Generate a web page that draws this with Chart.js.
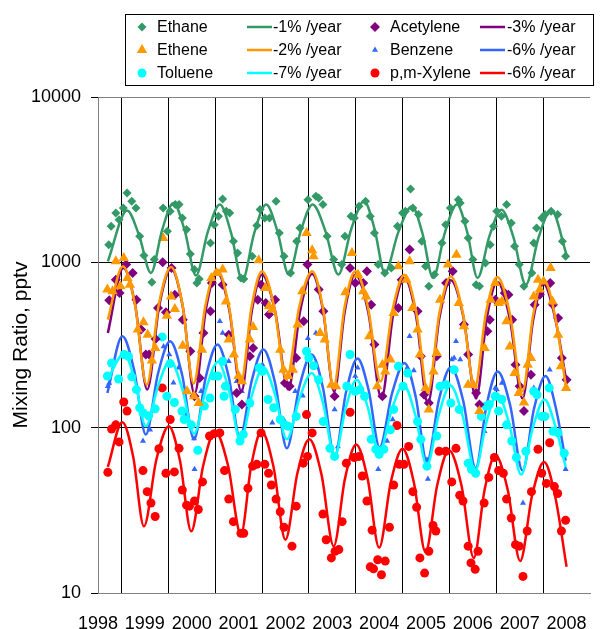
<!DOCTYPE html>
<html>
<head>
<meta charset="utf-8">
<script src="https://cdn.jsdelivr.net/npm/chart.js@4/dist/chart.umd.min.js"></script>
<style>
  body { margin: 0; background: #fff; }
  #wrap { width: 610px; height: 629px; position: relative; }
</style>
</head>
<body>
<div id="wrap"><canvas id="myChart" width="610" height="629"></canvas></div>
<script>
// measured points (decimal year, pptv)
var ethaneYears = [1998.23,1998.28,1998.38,1998.45,1998.54,1998.62,1998.72,1998.81,1998.89,1998.98,1999.15,1999.20,1999.39,1999.48,1999.54,1999.65,1999.73,1999.80,1999.89,1999.97,2000.06,2000.11,2000.16,2000.40,2000.48,2000.57,2000.66,2000.74,2000.81,2000.89,2000.98,2001.05,2001.11,2001.29,2001.39,2001.46,2001.56,2001.66,2001.80,2001.87,2001.97,2002.11,2002.24,2002.31,2002.48,2002.65,2002.71,2002.80,2002.89,2003.03,2003.20,2003.27,2003.40,2003.47,2003.57,2003.71,2003.81,2003.90,2003.98,2004.12,2004.26,2004.39,2004.50,2004.56,2004.67,2004.72,2004.84,2004.91,2004.99,2005.06,2005.18,2005.34,2005.42,2005.52,2005.69,2005.73,2005.83,2005.90,2006.00,2006.07,2006.14,2006.27,2006.37,2006.44,2006.51,2006.61,2006.72,2006.82,2006.89,2006.99,2007.09,2007.26,2007.30,2007.36,2007.47,2007.54,2007.67,2007.81,2007.91,2007.98];
var ethaneValues = [1279,1652,1990,1812,2133,2630,2339,2133,1438,1099,757,1039,2133,1542,2036,2234,2234,1855,1578,1125,904,750,794,1310,1690,1900,2416,2036,1990,1340,1140,805,794,1089,1668,2084,1855,1855,2339,1506,1089,863,1340,1614,2393,2507,2450,2234,1438,1039,969,1438,1900,1855,2183,2339,1900,1506,969,863,925,1652,1990,2036,2780,2133,1944,1340,946,717,843,1310,1690,2133,2393,2286,1771,1405,1039,733,717,991,1279,1652,2036,1900,2234,1730,1250,969,717,863,1310,1614,1855,1944,2036,1944,1340,1089];
var ethaneFitYears = [1998.21,1998.62,1998.875,1999.13,1999.37,1999.61,1999.85,2000.09,2000.345,2000.60,2000.84,2001.08,2001.335,2001.59,2001.83,2002.07,2002.325,2002.58,2002.855,2003.13,2003.405,2003.68,2003.90,2004.12,2004.41,2004.70,2004.925,2005.15,2005.405,2005.66,2005.88,2006.10,2006.355,2006.61,2006.87,2007.13,2007.40,2007.67,2008.01];
var ethaneFitValues = [1013,2060,1462,863,1574,2285,1559,832,1534,2235,1507,778,1507,2235,1539,843,1539,2235,1539,843,1591,2338,1601,863,1523,2182,1494,805,1520,2235,1520,805,1444,2083,1408,733,1408,2083,1087];

var acetyleneYears = [1998.24,1998.38,1998.46,1998.60,1998.74,1998.82,1998.92,1999.02,1999.09,1999.23,1999.28,1999.38,1999.45,1999.57,1999.64,1999.81,1999.97,2000.06,2000.17,2000.25,2000.40,2000.43,2000.66,2000.79,2000.96,2001.07,2001.24,2001.31,2001.41,2001.48,2001.58,2001.65,2001.78,2001.99,2002.09,2002.23,2002.39,2002.47,2002.71,2002.81,2003.05,2003.38,2003.49,2003.66,2003.74,2003.83,2003.90,2004.07,2004.41,2004.48,2004.65,2004.82,2004.89,2004.96,2005.06,2005.23,2005.43,2005.57,2005.81,2005.90,2006.07,2006.14,2006.31,2006.36,2006.48,2006.68,2006.76,2006.84,2006.91,2007.00,2007.09,2007.24,2007.32,2007.43,2007.65,2007.71,2007.82,2007.90,2008.00];
var acetyleneValues = [589,785,653,969,861,594,392,277,277,344,530,1000,499,925,637,450,290,155,200,374,506,750,733,365,162,138,270,303,594,733,567,483,594,186,178,264,440,969,684,506,155,925,750,750,883,554,318,155,530,785,1194,506,270,158,141,270,750,883,420,277,162,138,383,450,594,653,637,450,240,178,126,209,554,637,750,554,461,264,195];
var acetyleneFitYears = [1998.21,1998.54,1998.795,1999.05,1999.305,1999.56,1999.81,2000.06,2000.30,2000.54,2000.80,2001.06,2001.28,2001.50,2001.78,2002.06,2002.315,2002.57,2002.805,2003.04,2003.265,2003.49,2003.77,2004.05,2004.295,2004.54,2004.79,2005.04,2005.285,2005.53,2005.80,2006.07,2006.295,2006.52,2006.79,2007.06,2007.285,2007.51,2007.75,2007.99];
var acetyleneFitValues = [374,925,548,170,543,915,538,160,515,870,518,165,503,840,505,170,510,850,508,165,503,840,495,150,475,800,470,140,460,780,465,150,455,760,455,150,445,740,468,195];

var etheneYears = [1998.20,1998.31,1998.38,1998.48,1998.55,1998.63,1998.68,1998.85,1998.97,1999.06,1999.15,1999.22,1999.39,1999.47,1999.56,1999.64,1999.81,1999.90,2000.05,2000.15,2000.22,2000.42,2000.53,2000.66,2000.73,2000.79,2000.90,2001.00,2001.07,2001.24,2001.31,2001.43,2001.57,2001.65,2001.72,2001.89,2001.96,2002.06,2002.16,2002.26,2002.36,2002.45,2002.57,2002.60,2002.74,2002.84,2002.98,2003.08,2003.28,2003.42,2003.55,2003.66,2003.72,2003.79,2003.96,2004.07,2004.13,2004.24,2004.31,2004.41,2004.58,2004.65,2004.71,2004.82,2004.87,2004.99,2005.06,2005.16,2005.23,2005.30,2005.47,2005.65,2005.70,2005.81,2005.90,2006.01,2006.14,2006.25,2006.38,2006.48,2006.55,2006.62,2006.72,2006.79,2006.89,2006.98,2007.09,2007.17,2007.24,2007.30,2007.39,2007.43,2007.51,2007.66,2007.70,2007.82,2007.88,2007.99];
var etheneValues = [684,668,1014,716,1062,804,733,392,434,365,255,303,1403,476,622,522,313,166,155,141,296,804,861,904,580,341,277,205,191,341,406,1028,700,542,517,296,224,205,224,420,668,1506,1183,1087,374,341,182,178,660,1138,842,668,622,357,178,240,219,258,494,946,785,1014,530,392,277,174,129,219,283,594,969,1112,567,410,182,182,126,303,594,750,567,580,440,310,214,162,142,240,264,622,785,684,767,925,580,365,235,174];
var etheneFitYears = [1998.21,1998.53,1998.785,1999.04,1999.30,1999.56,1999.80,2000.04,2000.29,2000.54,2000.795,2001.05,2001.275,2001.50,2001.76,2002.02,2002.295,2002.57,2002.80,2003.03,2003.26,2003.49,2003.76,2004.03,2004.285,2004.54,2004.79,2005.04,2005.285,2005.53,2005.785,2006.04,2006.28,2006.52,2006.79,2007.06,2007.285,2007.51,2007.75,2007.99];
var etheneFitValues = [450,946,564,182,560,937,561,185,545,904,545,186,535,883,539,195,539,883,531,178,531,883,537,190,516,842,502,162,492,822,498,174,495,815,491,166,476,785,480,174];

var benzeneYears = [1998.21,1998.24,1998.53,1998.82,1998.96,1999.11,1999.40,1999.52,1999.61,1999.72,1999.88,2000.05,2000.06,2000.20,2000.60,2000.66,2000.79,2000.96,2001.07,2001.51,2001.72,2001.96,2002.21,2002.37,2002.48,2002.65,2003.05,2003.12,2003.49,2003.54,2003.98,2004.17,2004.29,2004.60,2004.65,2004.74,2005.02,2005.04,2005.55,2005.60,2005.64,2005.73,2006.25,2006.48,2006.51,2006.62,2007.07,2007.30,2007.64,2007.98];
var benzeneValues = [178,186,277,166,83,97,310,277,187,230,120,86,56,166,440,374,252,191,166,240,107,112,166,156,348,374,129,77,205,230,56,83,112,230,357,222,64,49,258,264,333,258,95,174,170,186,35,174,224,56];
var benzeneFitYears = [1998.20,1998.52,1998.77,1999.02,1999.28,1999.54,1999.795,2000.05,2000.30,2000.55,2000.79,2001.03,2001.28,2001.53,2001.78,2002.03,2002.295,2002.56,2002.805,2003.05,2003.295,2003.54,2003.775,2004.01,2004.275,2004.54,2004.78,2005.02,2005.275,2005.53,2005.795,2006.06,2006.295,2006.53,2006.795,2007.06,2007.305,2007.55,2007.77,2007.98];
var benzeneFitValues = [162,357,224,91,212,333,209,85,202,318,203,87,192,297,186,75,176,277,172,67,165,262,169,76,161,246,154,62,147,232,145,57,138,219,137,55,130,205,132,63];

var tolueneYears = [1998.20,1998.29,1998.44,1998.56,1998.65,1998.72,1998.82,1998.89,1998.96,1999.08,1999.22,1999.37,1999.47,1999.54,1999.63,1999.79,1999.84,1999.99,2000.13,2000.27,2000.39,2000.47,2000.56,2000.66,2000.69,2000.72,2000.93,2001.03,2001.10,2001.24,2001.44,2001.51,2001.63,2001.75,2001.89,2001.99,2002.06,2002.23,2002.45,2002.50,2002.60,2002.71,2002.81,2002.95,2003.05,2003.31,2003.38,2003.49,2003.59,2003.69,2003.83,2003.93,2004.00,2004.10,2004.24,2004.31,2004.41,2004.51,2004.61,2004.82,2004.89,2005.02,2005.23,2005.30,2005.43,2005.53,2005.60,2005.71,2005.90,2005.97,2006.06,2006.18,2006.28,2006.35,2006.48,2006.55,2006.62,2006.72,2006.83,2006.93,2007.13,2007.30,2007.37,2007.47,2007.54,2007.63,2007.71,2007.82,2007.95];
var tolueneValues = [205,246,197,277,270,203,170,132,123,118,130,354,155,244,142,126,112,104,73,135,151,205,205,252,155,178,129,83,91,141,230,219,148,132,112,104,102,117,290,264,237,195,109,75,67,178,277,166,170,155,85,74,69,74,97,129,235,178,214,109,85,58.5,89,178,182,141,224,129,61,56,53,117,135,138,155,126,148,104,83,66,72,166,158,117,117,174,95,93,70];
var tolueneFitYears = [1998.20,1998.56,1998.79,1999.02,1999.28,1999.54,1999.795,2000.05,2000.305,2000.56,2000.80,2001.04,2001.285,2001.53,2001.78,2002.03,2002.295,2002.56,2002.805,2003.05,2003.285,2003.52,2003.76,2004.00,2004.26,2004.52,2004.77,2005.02,2005.27,2005.52,2005.785,2006.05,2006.285,2006.52,2006.775,2007.03,2007.28,2007.53,2007.76,2007.98];
var tolueneFitValues = [195,280,191,102,178,254,173,92,171,250,166,83,157,232,158,85,149,214,140,67,131,195,132,70,126,182,120,59,119,180,117,55,107,160,106,52,100,148,102,58];

var xyleneYears = [1998.21,1998.29,1998.38,1998.45,1998.55,1998.62,1998.96,1999.05,1999.13,1999.22,1999.30,1999.37,1999.45,1999.54,1999.63,1999.73,1999.80,1999.89,1999.95,2000.06,2000.14,2000.23,2000.38,2000.48,2000.60,2000.70,2000.79,2000.89,2001.05,2001.11,2001.20,2001.30,2001.39,2001.48,2001.56,2001.64,2001.70,2001.80,2001.89,2001.97,2002.14,2002.23,2002.38,2002.45,2002.47,2002.57,2002.80,2002.87,2002.98,2003.06,2003.14,2003.21,2003.30,2003.38,2003.47,2003.57,2003.64,2003.74,2003.81,2003.85,2003.88,2003.97,2004.05,2004.13,2004.22,2004.31,2004.38,2004.43,2004.53,2004.63,2004.72,2004.80,2004.87,2004.97,2005.06,2005.15,2005.21,2005.28,2005.42,2005.55,2005.64,2005.72,2005.79,2005.90,2005.96,2006.05,2006.11,2006.24,2006.34,2006.46,2006.55,2006.65,2006.72,2006.82,2006.91,2006.99,2007.07,2007.16,2007.25,2007.39,2007.47,2007.57,2007.64,2007.74,2007.81,2007.89,2007.98];
var xyleneValues = [53.7,98,104,82,143,126,55,41,35,29,74.5,174,53,112,54,75,42,34,33.5,36,32,47,89,92,93,55,37,27,23,23,43,58.5,60,93,60,53,45,37,31,25,19.2,33.5,61,120,67,93,30,21,16.3,17.9,18.3,27,61,124,66,67,51,36,14.4,24,14,15.9,12.9,15.6,25,45,103,60,60,77,41,33,16.3,13.2,17.9,25.6,23.7,72,72,47,75,39,36,19.2,15.2,13.9,17.9,35,50,66,55,53,37,28.4,19.6,19.2,12.6,23.7,41,74,53,46,81,44,40,23.7,27.5];
var xyleneFitYears = [1998.21,1998.52,1998.75,1998.98,1999.245,1999.51,1999.75,1999.99,2000.245,2000.50,2000.775,2001.05,2001.27,2001.49,2001.745,2002.00,2002.255,2002.51,2002.77,2003.03,2003.27,2003.51,2003.755,2004.00,2004.25,2004.50,2004.745,2004.99,2005.24,2005.49,2005.755,2006.02,2006.25,2006.48,2006.745,2007.01,2007.265,2007.52,2007.76,2008.00];
var xyleneFitValues = [58,108,67,25.3,64,102,63,23.6,59,95,59,22.6,59,95,58,21,53,85,52,19.2,49,79,49,18.8,47,74.5,46,17.7,45,73,45,16.3,42,68,42,15.6,39,62,38,14.4];

var yTicks = [10, 100, 1000, 10000];
var FONT = '"Liberation Sans", Arial, sans-serif';

function pts(xs, ys) {
	return xs.map(function(x, i) { return { x: x, y: ys[i] }; });
}

function scatterSet(label, xs, ys, color, style, r, order) {
	return {
		label: label, data: pts(xs, ys), showLine: false,
		pointStyle: style, pointRadius: r, pointHoverRadius: r,
		pointBackgroundColor: color, pointBorderWidth: 0,
		backgroundColor: color, borderColor: color, order: order
	};
}

function fitSet(label, xs, ys, color, order) {
	return {
		label: label, data: pts(xs, ys), showLine: true,
		borderColor: color, backgroundColor: color, borderWidth: 2.5,
		pointRadius: 0, pointHoverRadius: 0, fill: false,
		cubicInterpolationMode: 'monotone', order: order
	};
}

// legend drawn as a 4 column box like the original
var gridLegend = {
	id: 'gridLegend',
	afterDraw: function(chart) {
		var ctx = chart.ctx;
		var rows = [27, 50, 73];
		var markX = [142, 0, 375, 0];
		var lineX = [0, 247, 0, 480];
		var textX = [157, 273, 390, 507];
		ctx.save();
		ctx.fillStyle = '#fff';
		ctx.fillRect(125, 14, 468, 71);
		ctx.strokeStyle = '#000';
		ctx.lineWidth = 1;
		ctx.strokeRect(125.5, 14.5, 468, 71);
		ctx.font = '16px ' + FONT;
		ctx.textBaseline = 'middle';
		chart.data.datasets.forEach(function(ds, i) {
			var row = Math.floor(i / 4), col = i % 4;
			var y = rows[row];
			if (ds.showLine) {
				ctx.strokeStyle = ds.borderColor;
				ctx.lineWidth = 2.5;
				ctx.beginPath();
				ctx.moveTo(lineX[col], y);
				ctx.lineTo(lineX[col] + 25, y);
				ctx.stroke();
			} else {
				var x = markX[col], r = ds.pointRadius;
				ctx.fillStyle = ds.pointBackgroundColor;
				ctx.beginPath();
				if (ds.pointStyle === 'circle') {
					ctx.arc(x, y, r, 0, Math.PI * 2);
				} else if (ds.pointStyle === 'rectRot') {
					ctx.moveTo(x - r, y); ctx.lineTo(x, y - r);
					ctx.lineTo(x + r, y); ctx.lineTo(x, y + r);
				} else {
					ctx.moveTo(x, y - r);
					ctx.lineTo(x + r * 0.866, y + r * 0.5);
					ctx.lineTo(x - r * 0.866, y + r * 0.5);
				}
				ctx.closePath();
				ctx.fill();
			}
			ctx.fillStyle = '#000';
			ctx.fillText(ds.label, textX[col], y + 1);
		});
		ctx.restore();
	}
};

var ctx = document.getElementById('myChart');
var myChart = new Chart(ctx, {
	type: 'scatter',
	data: {
		datasets: [
			scatterSet('Ethane', ethaneYears, ethaneValues, '#339966', 'rectRot', 4.5, 0),
			fitSet('-1% /year', ethaneFitYears, ethaneFitValues, '#339966', 1),
			scatterSet('Acetylene', acetyleneYears, acetyleneValues, '#800080', 'rectRot', 5, 4),
			fitSet('-3% /year', acetyleneFitYears, acetyleneFitValues, '#800080', 5),
			scatterSet('Ethene', etheneYears, etheneValues, '#FF9900', 'triangle', 6, 2),
			fitSet('-2% /year', etheneFitYears, etheneFitValues, '#FF9900', 3),
			scatterSet('Benzene', benzeneYears, benzeneValues, '#3366FF', 'triangle', 3.5, 8),
			fitSet('-6% /year', benzeneFitYears, benzeneFitValues, '#3366FF', 9),
			scatterSet('Toluene', tolueneYears, tolueneValues, '#00FFFF', 'circle', 4.5, 6),
			fitSet('-7% /year', tolueneFitYears, tolueneFitValues, '#00FFFF', 7),
			scatterSet('p,m-Xylene', xyleneYears, xyleneValues, '#FF0000', 'circle', 4.5, 10),
			fitSet('-6% /year', xyleneFitYears, xyleneFitValues, '#FF0000', 11)
		]
	},
	options: {
		responsive: false,
		animation: false,
		devicePixelRatio: 1,
		layout: { padding: { top: 97, right: 0, bottom: 0, left: 0 } },
		plugins: { legend: { display: false }, tooltip: { enabled: false } },
		scales: {
			x: {
				type: 'linear', min: 1998, max: 2008.5,
				afterFit: function(scale) { scale.height = 36; },
				ticks: {
					stepSize: 0.5, autoSkip: false, maxRotation: 0, padding: 20,
					color: '#000', font: { family: FONT, size: 18 },
					callback: function(v) { return v % 1 === 0 ? String(v) : ''; }
				},
				grid: {
					drawTicks: false, lineWidth: 1,
					color: function(c) {
						var v = c.tick ? c.tick.value : 0;
						return (v % 1 !== 0 && v < 2008.5) ? '#000' : 'rgba(0,0,0,0)';
					}
				},
				border: { color: '#808080', width: 1 }
			},
			y: {
				type: 'logarithmic', min: 10, max: 10000,
				afterFit: function(scale) { scale.width = 98; },
				afterBuildTicks: function(scale) {
					scale.ticks = yTicks.map(function(v) { return { value: v }; });
				},
				ticks: {
					padding: 10, color: '#000', font: { family: FONT, size: 18 },
					callback: function(v) { return String(v); }
				},
				grid: {
					tickLength: 7, tickColor: '#000', lineWidth: 1,
					color: function(c) {
						var v = c.tick ? c.tick.value : 0;
						return (v === 100 || v === 1000) ? '#000' : '#808080';
					}
				},
				border: { color: '#808080', width: 1 },
				title: {
					display: true, text: 'Mixing Ratio, pptv', color: '#000',
					font: { family: FONT, size: 21 }, padding: { top: 9, bottom: 0 }
				}
			}
		}
	},
	plugins: [gridLegend]
});
</script>
</body>
</html>
